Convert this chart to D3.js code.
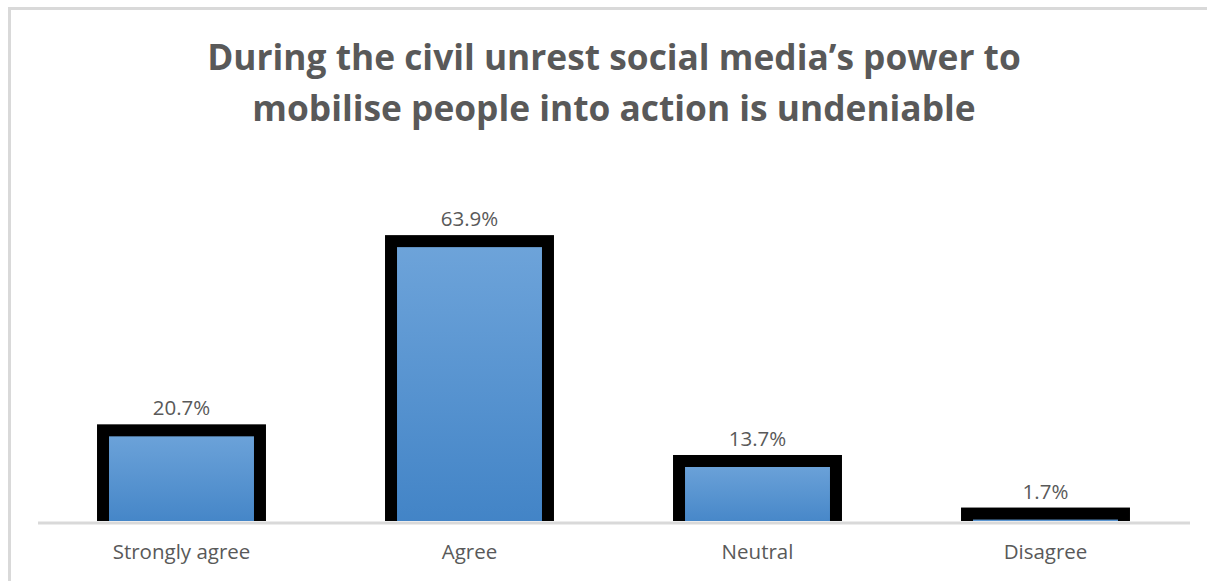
<!DOCTYPE html>
<html>
<head>
<meta charset="utf-8">
<script src="https://cdn.jsdelivr.net/npm/d3@7"></script>
<style>
  html, body { margin: 0; padding: 0; background: #fff; }
  svg { display: block; }
</style>
</head>
<body>
<svg id="chart" width="1207" height="581"></svg>
<script>
// Survey responses (percent of respondents)
const categories = ["Strongly agree", "Agree", "Neutral", "Disagree"];
const shares = [20.7, 63.9, 13.7, 1.7];
const titleLines = [
  "During the civil unrest social media\u2019s power to",
  "mobilise people into action is undeniable"
];

const W = 1207, H = 581;
const margin = { left: 37.5, right: 17.5 };
const baseline = 521;
const font = "'Open Sans', sans-serif";

const svg = d3.select("#chart");

// Outer frame of the chart area
svg.append("rect")
  .attr("x", 9.5).attr("y", 8.5)
  .attr("width", W + 20).attr("height", H + 20)
  .attr("fill", "none")
  .attr("stroke", "#d9d9d9")
  .attr("stroke-width", 3);

// Title
svg.append("g")
  .attr("font-family", font)
  .attr("font-weight", 700)
  .attr("fill", "#595959")
  .attr("text-anchor", "middle")
  .selectAll("text").data(titleLines).join("text")
  .attr("x", 614)
  .attr("y", (d, i) => 70 + i * 51)
  .attr("font-size", 35.3)
  .text(d => d);

// Scales
const x = d3.scaleBand()
  .domain(categories)
  .range([margin.left, W - margin.right])
  .paddingInner(0.455)
  .paddingOuter(0.2275);

// 4.38 px per percentage point
const y = d3.scaleLinear()
  .domain([0, 100])
  .range([baseline, baseline - 438]);

// Gradient fill for bars
const defs = svg.append("defs");
const grad = defs.append("linearGradient")
  .attr("id", "barFill").attr("x1", 0).attr("y1", 0).attr("x2", 0).attr("y2", 1);
grad.append("stop").attr("offset", "0%").attr("stop-color", "#6ea4da");
grad.append("stop").attr("offset", "100%").attr("stop-color", "#4183c6");

defs.append("clipPath").attr("id", "plotClip")
  .append("rect").attr("x", 0).attr("y", 0).attr("width", W).attr("height", baseline);

// Bars
svg.append("g").attr("clip-path", "url(#plotClip)")
  .selectAll("rect").data(categories).join("rect")
  .attr("x", d => x(d))
  .attr("y", (d, i) => y(shares[i]))
  .attr("width", x.bandwidth())
  .attr("height", (d, i) => baseline - y(shares[i]) + 10)
  .attr("fill", "url(#barFill)")
  .attr("stroke", "#000")
  .attr("stroke-width", 12);

// Category axis
const axis = svg.append("g")
  .attr("transform", `translate(0,${baseline + 1.5})`)
  .call(d3.axisBottom(x).tickSize(0).tickPadding(22));
axis.select(".domain").attr("stroke", "#d9d9d9").attr("stroke-width", 3);
axis.selectAll("text")
  .attr("font-family", font)
  .attr("font-size", 20.5)
  .attr("fill", "#595959");

// Value labels
svg.append("g")
  .selectAll("text").data(categories).join("text")
  .attr("x", d => x(d) + x.bandwidth() / 2)
  .attr("y", (d, i) => y(shares[i]) - 15)
  .attr("text-anchor", "middle")
  .attr("font-family", font)
  .attr("font-size", 20.5)
  .attr("fill", "#595959")
  .text((d, i) => shares[i].toFixed(1) + "%");
</script>
</body>
</html>
